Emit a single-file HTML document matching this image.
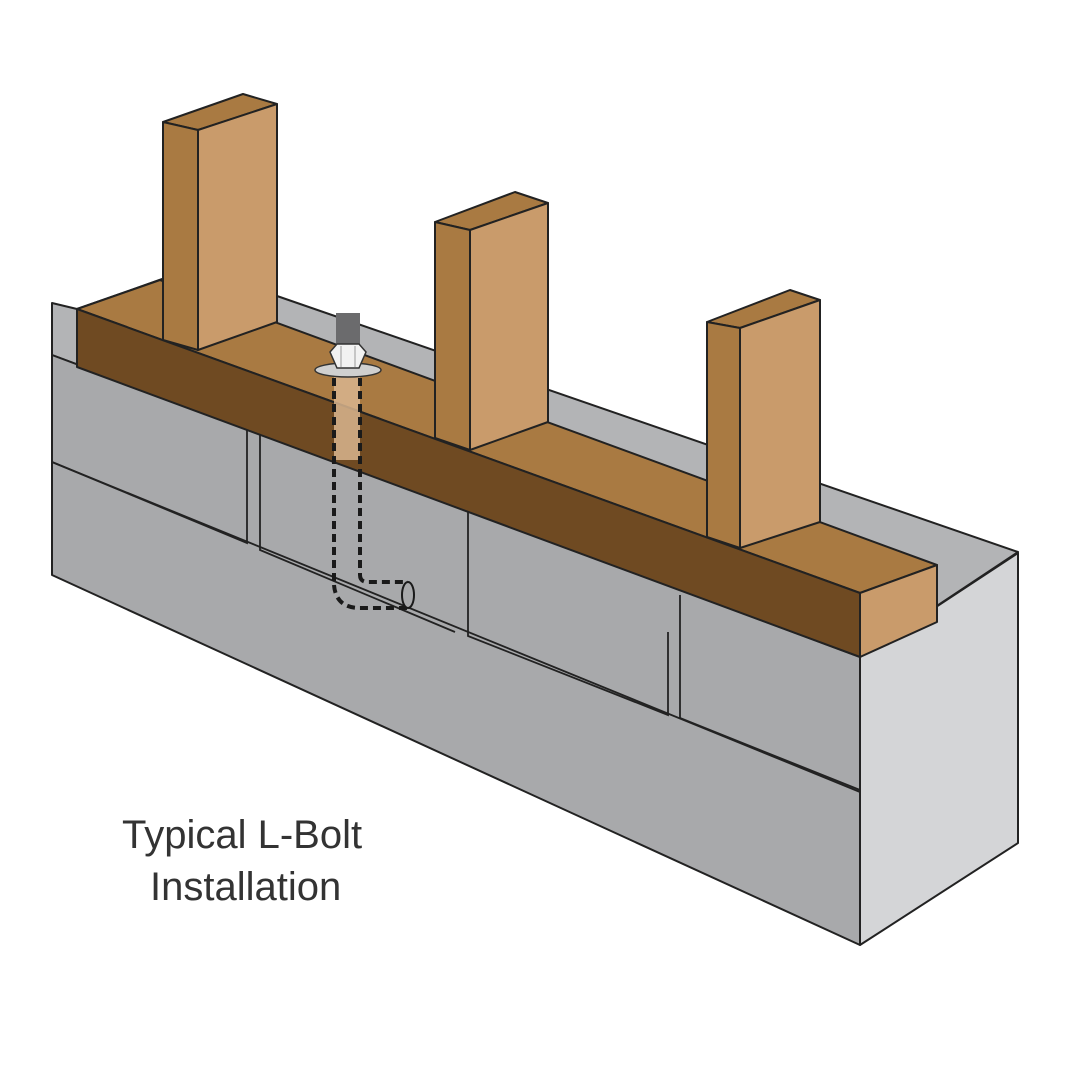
<!DOCTYPE html>
<html><head><meta charset="utf-8"><style>
html,body{margin:0;padding:0;background:#fff;}
svg{display:block;}
text{font-family:"Liberation Sans",sans-serif;}
</style></head><body>
<svg width="1080" height="1080" viewBox="0 0 1080 1080" xmlns="http://www.w3.org/2000/svg">
<g stroke="#222" stroke-width="2" stroke-linejoin="round">
<!-- wall -->
<polygon points="52,303 77,309 165,278 180,200 277,296 1018,552 860,657 52,355" fill="#b3b4b6"/>
<polygon points="52,355 860,657 860,945 52,575" fill="#a8a9ab"/>
<polygon points="860,657 1018,553 1018,843 860,945" fill="#d4d5d7"/>
</g>
<g stroke="#222" stroke-width="1.8" fill="none">
<line x1="52" y1="462" x2="860" y2="792"/>
<polyline points="52,462 247,543 247,425"/>
<polyline points="260,435 260,550 455,632"/>
<polyline points="468,510 468,636 668,715 668,632"/>
<polyline points="680,595 680,718 860,790"/>
</g>
<g stroke="#222" stroke-width="2" stroke-linejoin="round">
<!-- sill -->
<polygon points="77,309 160,280 937,565 860,593" fill="#a97a42"/>
<polygon points="77,309 860,593 860,657 77,367" fill="#6f4a22"/>
<polygon points="860,593 937,565 937,622 860,657" fill="#c99b6b"/>
<!-- stud1 -->
<polygon points="163,122 243,94 277,104 198,130" fill="#a97a42"/>
<polygon points="163,122 198,130 198,350 163,340" fill="#a97a42"/>
<polygon points="198,130 277,104 277,322 198,350" fill="#c99b6b"/>
<!-- stud2 -->
<polygon points="435,222 515,192 548,203 470,230" fill="#a97a42"/>
<polygon points="435,222 470,230 470,450 435,438" fill="#a97a42"/>
<polygon points="470,230 548,203 548,422 470,450" fill="#c99b6b"/>
<!-- stud3 -->
<polygon points="707,322 790,290 820,300 740,328" fill="#a97a42"/>
<polygon points="707,322 740,328 740,548 707,537" fill="#a97a42"/>
<polygon points="740,328 820,300 820,522 740,548" fill="#c99b6b"/>
</g>
<!-- bolt -->
<rect x="334" y="372" width="26" height="88" fill="#d9b58e" opacity="0.85"/>
<g stroke="#1a1a1a" stroke-width="4" stroke-dasharray="8,5" fill="none">
<line x1="334" y1="378" x2="334" y2="585"/>
<line x1="360" y1="378" x2="360" y2="575"/>
<path d="M360,575 Q360,582 368,582 L408,582"/>
<path d="M334,585 Q336,608 360,608 L408,608"/>
</g>
<ellipse cx="408" cy="595" rx="6" ry="13" fill="#a8a9ab" stroke="#1a1a1a" stroke-width="2"/>
<rect x="336" y="313" width="24" height="36" fill="#6b6b6d"/>
<ellipse cx="348" cy="370" rx="33" ry="7" fill="#d0d0d0" stroke="#333" stroke-width="1.5"/>
<polygon points="330,352 337,344 359,344 366,352 359,368 337,368" fill="#f2f2f2" stroke="#333" stroke-width="1.5"/>
<line x1="341" y1="346" x2="341" y2="367" stroke="#999"/>
<line x1="355" y1="346" x2="355" y2="367" stroke="#999"/>
<text x="122" y="848" font-size="40" fill="#333">Typical L-Bolt</text>
<text x="150" y="900" font-size="40" fill="#333">Installation</text>
</svg>
</body></html>
